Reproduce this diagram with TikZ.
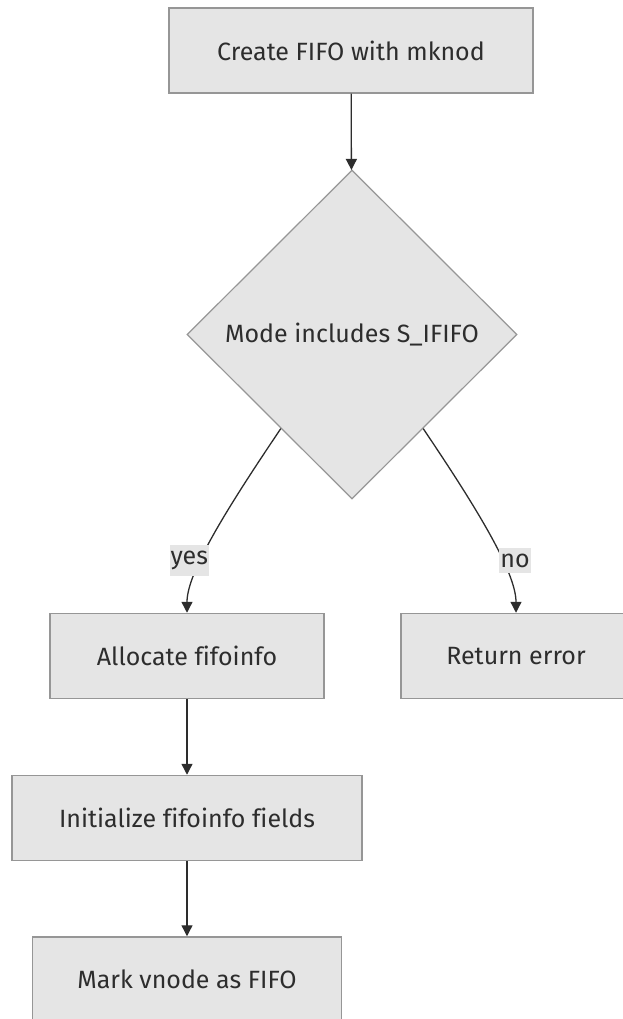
\documentclass[tikz,border=0pt]{standalone}
\usepackage{fontspec}
\setmainfont[Ligatures=NoCommon]{Fira Sans}
\usetikzlibrary{shapes.geometric,arrows.meta,calc}

\definecolor{boxfill}{RGB}{229,229,229}
\definecolor{boxline}{RGB}{150,150,150}
\definecolor{ink}{RGB}{45,45,45}

\tikzset{
  stepbox/.style={draw=boxline, fill=boxfill, line width=1.5pt, minimum height=85pt, text=ink, inner sep=0pt},
  test/.style={diamond, draw=boxline, fill=boxfill, line width=1.2pt, minimum width=330pt, minimum height=329pt, aspect=1, inner sep=0pt, text=ink},
  flow/.style={draw=ink, line width=1.3pt, -{Triangle[length=11pt,width=11pt]}},
  tag/.style={fill=boxfill, text=ink, inner xsep=1pt, inner ysep=6pt}
}

\begin{document}
\begin{tikzpicture}[x=1pt,y=-1pt,font=\fontsize{25}{29}\selectfont]
\useasboundingbox (0,0) rectangle (622,1019);

\node[stepbox, minimum width=364pt] (create) at (351,50.5) {Create FIFO with mknod};
\node[test] (mode) at (352,334.5) {Mode includes S\_IFIFO};
\node[stepbox, minimum width=274pt] (alloc) at (187,656) {Allocate fifoinfo};
\node[stepbox, minimum width=230pt] (err) at (516,656) {Return error};
\node[stepbox, minimum width=350pt] (init) at (187,818) {Initialize fifoinfo fields};
\node[stepbox, minimum width=309pt] (mark) at (187,979.5) {Mark vnode as FIFO};

\path[flow] (create) -- (mode);
\path[flow] ($(mode.west)!0.57!(mode.south)$) to[out=-124,in=90,out looseness=1.2,in looseness=0.5] node[tag,pos=0.64,xshift=-12pt] {yes} (alloc.north);
\path[flow] ($(mode.south)!0.43!(mode.east)$) to[out=-56,in=90,out looseness=1.2,in looseness=0.5] node[tag,pos=0.64,xshift=13pt] {no} (err.north);
\path[flow] (alloc) -- (init);
\path[flow] (init) -- (mark);
\end{tikzpicture}
\end{document}
